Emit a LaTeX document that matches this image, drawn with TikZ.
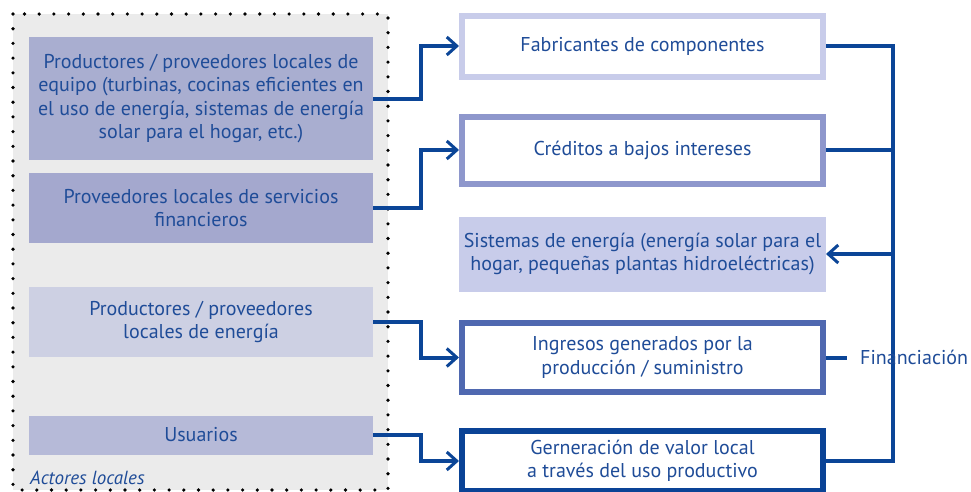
\documentclass[tikz,border=0pt]{standalone}
\usepackage{fontspec}
\setmainfont{PT Sans}
\usetikzlibrary{arrows.meta}
\definecolor{txt}{HTML}{1F4C98}
\definecolor{ln}{HTML}{0B4597}
\definecolor{panelbg}{HTML}{EBEBEB}
\definecolor{lbA}{HTML}{A9AED0}
\definecolor{lbB}{HTML}{A4A8CE}
\definecolor{lbC}{HTML}{CDD0E3}
\definecolor{lbD}{HTML}{B6BAD8}
\definecolor{rbA}{HTML}{C8CCEA}
\definecolor{rbB}{HTML}{8E97CC}
\definecolor{rbD}{HTML}{4F68B0}
\definecolor{rbE}{HTML}{0A4396}
\tikzset{
  lbox/.style={rectangle, inner sep=0pt, outer sep=0pt, minimum width=344pt, align=center, text=txt},
  rbox/.style={rectangle, inner sep=0pt, minimum width=361pt, align=center, text=txt, line width=6pt, fill=white},
  conn/.style={draw=ln, line width=4pt, line join=miter},
  arr/.style={conn, -{Straight Barb[length=10pt, width=18pt, line width=3pt]}},
  dotline/.style={draw=black, line width=3.6pt, line cap=round, dash pattern=on 0pt off 14.7pt}
}
\begin{document}
\begin{tikzpicture}[x=1pt,y=-1pt, font=\fontsize{20}{23.5}\selectfont]
\useasboundingbox (0,0) rectangle (971,491);
\fill[panelbg] (13,14) rectangle (388,490);
\draw[dotline] (13,14) rectangle (388,490);

% left boxes
\node[lbox, fill=lbA, minimum height=123pt] (l1) at (201,98.5)
  {Productores / proveedores locales de\\equipo (turbinas, cocinas eficientes en\\el uso de energía, sistemas de energía\\solar para el hogar, etc.)};
\node[lbox, fill=lbB, minimum height=70pt] (l2) at (201,208)
  {Proveedores locales de servicios\\financieros};
\node[lbox, fill=lbC, minimum height=70pt] (l3) at (201,322)
  {Productores / proveedores\\locales de energía};
\node[lbox, fill=lbD, minimum height=39pt] (l4) at (201,435)
  {Usuarios};
\node[anchor=base west, text=txt, inner sep=0pt, font=\fontsize{19}{22}\selectfont\itshape] (al) at (30,484) {Actores locales};

% right boxes
\node[rbox, draw=rbA, minimum height=61pt] (r1) at (642.5,46) {Fabricantes de componentes};
\node[rbox, draw=rbB, minimum height=67pt] (r2) at (642.5,150) {Créditos a bajos intereses};
\node[rbox, fill=rbA, minimum width=367pt, minimum height=75pt, outer sep=0pt] (r3) at (642.5,254)
  {Sistemas de energía (energía solar para el\\hogar, pequeñas plantas hidroeléctricas)};
\node[rbox, draw=rbD, minimum height=69pt] (r4) at (642.5,357.5) {Ingresos generados por la\\producción / suministro};
\node[rbox, draw=rbE, minimum height=60pt] (r5) at (642.5,461) {Gerneración de valor local\\a través del uso productivo};

% left connectors
\draw[arr] (l1.east) -- ++(48,0) |- (r1.west);
\draw[arr] (l2.east) -- ++(48,0) |- (r2.west);
\draw[arr] (l3.east) -- ++(48,0) |- (r4.west);
\draw[arr] (l4.east) -- ++(48,0) |- (r5.west);

% right connectors
\coordinate (top) at (893,46);
\coordinate (bot) at (893,461);
\coordinate (stub) at (847,357.5);
\draw[conn] (r1.east) -- (top) -- (bot) -- (r5.east);
\draw[conn] (r2.east) -- (r2.east -| top);
\draw[arr] (r3.east -| top) -- (r3.east);
\draw[conn] (r4.east) -- (stub);
\node[anchor=west, text=txt, inner sep=0pt] (fin) at (860,357.5) {Financiación};
\end{tikzpicture}
\end{document}
